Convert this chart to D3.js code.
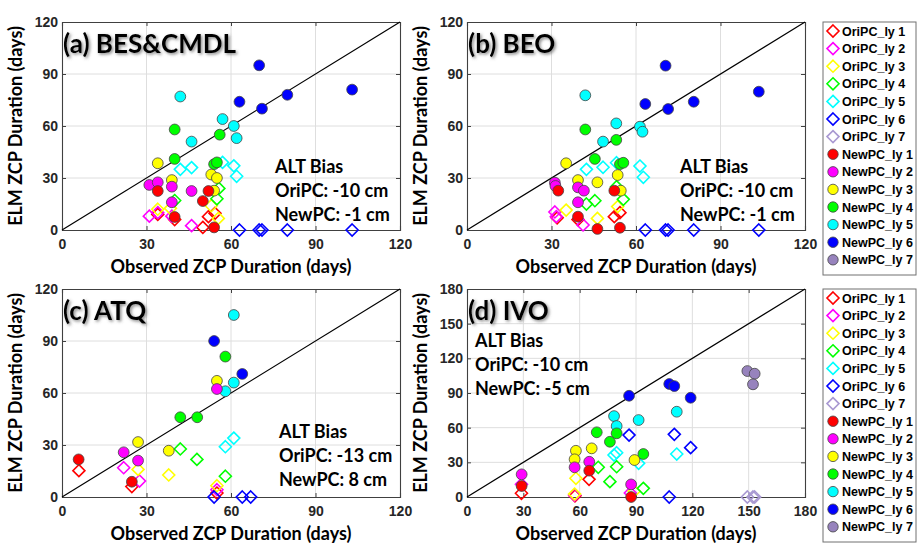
<!DOCTYPE html>
<html><head><meta charset="utf-8">
<script src="https://cdn.jsdelivr.net/npm/d3@7"></script>
<style>
html,body{margin:0;padding:0;background:#fff;}
svg{display:block;}
</style></head><body>
<svg id="chart" width="919" height="543"></svg>
<script>
// Layer styling (ly 1 .. ly 7)
const layerFill = ["#ff0000","#ff00ff","#ffff00","#00ff00","#00ffff","#0000ff","#9783bd"];
const layerEdge = ["#ff0000","#ff00ff","#ffff00","#00ff00","#00ffff","#0000ff","#a999d2"];
const oriLabels = ["OriPC_ly 1","OriPC_ly 2","OriPC_ly 3","OriPC_ly 4","OriPC_ly 5","OriPC_ly 6","OriPC_ly 7"];
const newLabels = ["NewPC_ly 1","NewPC_ly 2","NewPC_ly 3","NewPC_ly 4","NewPC_ly 5","NewPC_ly 6","NewPC_ly 7"];

const ticks120 = [0,30,60,90,120];
const ticks180 = [0,30,60,90,120,150,180];

// Each entry: [layer, observed ZCP days, ELM ZCP days]
const besOri = [
  [1,34,9],[1,40,6],[1,50,1.5],[1,52,7.7],[1,54.3,9.6],
  [2,31,8],[2,34,10],[2,39,8],[2,46,2.5],
  [3,34,12],[3,38.5,12.5],[3,53,14],[3,55.5,6.7],
  [4,40,17],[4,55,18],[4,55.7,24],
  [5,42,35],[5,46,36],[5,57,39],[5,61,37],[5,62,31],
  [6,63,0],[6,70,0],[6,71,0],[6,80,0],[6,103,0]
];
const besNew = [
  [1,34,22.5],[1,52,22.5],[1,50,16.7],[1,40,7.5],[1,54,1.5],
  [2,31,26],[2,34,27.5],[2,39,25],[2,46,22.5],[2,39,16],
  [3,34,38.5],[3,39,28.8],[3,53,32],[3,55,30],[3,54,22.7],
  [4,40,58],[4,56,55],[4,40,41],[4,54,38],[4,55,39],
  [5,42,77],[5,57,64],[5,61,60],[5,62,53],[5,46,51],
  [6,70,95],[6,63,74],[6,71,70],[6,80,78],[6,103,81]
];

const beoOri = [
  [1,32,7],[1,52.3,7.7],[1,54.3,10],[1,39.4,6],
  [2,31.2,10.4],[2,31.7,7.7],[2,41.2,2.9],
  [3,35.2,11.5],[3,46.3,6.7],[3,53.5,13.5],
  [4,42.4,15],[4,45.4,16.9],[4,53.1,25],[4,55.5,17.7],
  [5,42.4,35],[5,48.3,36.2],[5,53.1,38.8],[5,61.4,36.9],[5,62.6,30.4],
  [6,63.3,0],[6,70.5,0],[6,71.4,0],[6,80.5,0],[6,103.6,0]
];
const beoNew = [
  [1,32.4,22.7],[1,52.3,22.7],[1,39.4,7.7],[1,46.3,0.6],[1,54.3,1.3],
  [2,31.2,27.3],[2,31.4,25.4],[2,39.4,24.6],[2,41.5,22.7],[2,39.4,16],
  [3,35.2,38.5],[3,39.4,28.8],[3,46.3,27.5],[3,53.5,31.7],[3,54.6,22.7],
  [4,42,58],[4,53,52],[4,45.4,41],[4,54.3,38],[4,55.5,38.8],
  [5,42,77.7],[5,53,61.5],[5,61.4,59.6],[5,62.3,56.7],[5,48.3,51],
  [6,70.5,94.8],[6,63.3,72.7],[6,71.4,69.8],[6,80.5,74],[6,103.6,79.8]
];

const atqOri = [
  [1,6,15.2],[1,24.8,6],[1,55,2.3],
  [2,21.9,16.9],[2,27.5,9.2],[2,55,4.2],
  [3,27,15.9],[3,37.9,12.7],[3,55,6.5],
  [4,42,27.7],[4,47.9,21.7],[4,58,12],
  [5,58,29],[5,61,34],
  [6,54,0],[6,64,0],[6,67,0]
];
const atqNew = [
  [1,5.9,21.7],[1,24.8,8.8],
  [2,21.9,25.8],[2,27,21],[2,55,62.3],
  [3,27,31.7],[3,37.9,26.7],[3,55,67],
  [4,42,46],[4,48,46],[4,58,81],
  [5,61,105],[5,61,66],[5,58,61],
  [6,54,90],[6,64,71]
];

const ivoOri = [
  [1,29,3.2],[1,65,15.3],[1,57.5,1],
  [2,29,11],[2,57.3,1.7],[2,87,3.5],
  [3,58,16.2],[3,57.3,2.5],[3,89,5],
  [4,69.9,25.7],[4,76.1,13.3],[4,79.7,26.2],[4,93.9,7.5],
  [5,78.3,36.3],[5,79.7,38.3],[5,91.4,29.1],[5,111.7,37.2],
  [6,86.3,53.6],[6,110.4,54.2],[6,119.1,42.7],[6,107.7,0],
  [7,149.3,0],[7,152.3,0],[7,153.2,0]
];
const ivoNew = [
  [1,29.1,9.5],[1,65.1,22.8],[1,87.4,0],
  [2,29.1,19.6],[2,57.3,25.7],[2,65.1,30.5],[2,87.4,10.9],
  [3,58,40],[3,57.3,32.6],[3,66.4,42.1],[3,89.2,32],
  [4,69.1,56],[4,76.1,47.8],[4,79.7,55.1],[4,93.9,37.2],
  [5,78.3,70],[5,79.7,61.4],[5,91.4,66.6],[5,111.7,73.8],
  [6,86.3,87.6],[6,107.7,97.8],[6,110.4,96],[6,119.1,85.9],
  [7,149.3,109],[7,153.2,106.7],[7,152.3,97.5]
];

const panelTitles = ["(a) BES&CMDL","(b) BEO","(c) ATQ","(d) IVO"];
const oriBias = ["-10 cm","-10 cm","-13 cm","-10 cm"];
const newBias = ["-1 cm","-1 cm","8 cm","-5 cm"];

const svg = d3.select("#chart");
const defs = svg.append("defs");
const shadow = defs.append("filter").attr("id","soft").attr("x","-10%").attr("y","-30%").attr("width","130%").attr("height","180%");
shadow.append("feDropShadow").attr("dx",1.5).attr("dy",1.5).attr("stdDeviation",1.6)
  .attr("flood-color","#555").attr("flood-opacity",0.7);

const tickFont = "'Liberation Sans', Arial, sans-serif";
const textFont = "Lato, 'Open Sans', sans-serif";

function diamond(s){ return `M0,${-s}L${s},0L0,${s}L${-s},0Z`; }

const panels = [
  {ori:besOri, neu:besNew, x0:62,  y0:22,  max:120, ticks:ticks120, bias:[213,151]},
  {ori:beoOri, neu:beoNew, x0:467, y0:22,  max:120, ticks:ticks120, bias:[213,151]},
  {ori:atqOri, neu:atqNew, x0:62,  y0:289, max:120, ticks:ticks120, bias:[217,149]},
  {ori:ivoOri, neu:ivoNew, x0:467, y0:289, max:180, ticks:ticks180, bias:[8,58]}
];
const W = 338, H = 208;

panels.forEach((p,i)=>{
  const x = d3.scaleLinear().domain([0,p.max]).range([p.x0, p.x0+W]);
  const y = d3.scaleLinear().domain([0,p.max]).range([p.y0+H, p.y0]);
  const g = svg.append("g");

  // grid
  g.append("g").selectAll("line.gx").data(p.ticks.slice(1,-1)).join("line")
    .attr("x1",d=>x(d)).attr("x2",d=>x(d)).attr("y1",p.y0).attr("y2",p.y0+H)
    .attr("stroke","#dedede").attr("stroke-width",1);
  g.append("g").selectAll("line.gy").data(p.ticks.slice(1,-1)).join("line")
    .attr("y1",d=>y(d)).attr("y2",d=>y(d)).attr("x1",p.x0).attr("x2",p.x0+W)
    .attr("stroke","#dedede").attr("stroke-width",1);

  // axes (ticks pointing inward on all four sides)
  const ax = [
    d3.axisBottom(x).tickValues(p.ticks).tickSize(-4).tickPadding(9),
    d3.axisLeft(y).tickValues(p.ticks).tickSize(-4).tickPadding(4),
    d3.axisTop(x).tickValues(p.ticks).tickSize(-4).tickFormat(""),
    d3.axisRight(y).tickValues(p.ticks).tickSize(-4).tickFormat("")
  ];
  const pos = [`translate(0,${p.y0+H})`,`translate(${p.x0},0)`,`translate(0,${p.y0})`,`translate(${p.x0+W},0)`];
  ax.forEach((a,k)=>{
    const ag = g.append("g").attr("transform",pos[k]).call(a);
    ag.select(".domain").attr("stroke","#404040").attr("stroke-width",1.1);
    ag.selectAll(".tick line").attr("stroke","#404040");
    ag.selectAll("text").attr("font-family",tickFont).attr("font-weight","bold")
      .attr("font-size",14).attr("fill","#262626");
  });

  // 1:1 line
  g.append("line").attr("x1",x(0)).attr("y1",y(0)).attr("x2",x(p.max)).attr("y2",y(p.max))
    .attr("stroke","#000").attr("stroke-width",1.2);

  // OriPC diamonds
  g.append("g").selectAll("path").data(p.ori).join("path")
    .attr("d",diamond(6))
    .attr("transform",d=>`translate(${x(d[1])},${y(d[2])})`)
    .attr("fill","none").attr("stroke",d=>layerEdge[d[0]-1]).attr("stroke-width",1.6);

  // NewPC circles (deeper layers drawn first)
  const neu = p.neu.slice().sort((a,b)=>b[0]-a[0]);
  g.append("g").selectAll("circle").data(neu).join("circle")
    .attr("cx",d=>x(d[1])).attr("cy",d=>y(d[2])).attr("r",5.4)
    .attr("fill",d=>layerFill[d[0]-1]).attr("stroke","#444").attr("stroke-width",0.8);

  // panel title
  g.append("text").attr("x",p.x0+1).attr("y",p.y0+31)
    .attr("font-family",textFont).attr("font-weight","bold").attr("font-size",26)
    .attr("fill","#000").attr("filter","url(#soft)").text(panelTitles[i]);

  // ALT bias note
  const bx = p.x0 + p.bias[0], by = p.y0 + p.bias[1];
  ["ALT Bias","OriPC: "+oriBias[i],"NewPC: "+newBias[i]].forEach((t,k)=>{
    g.append("text").attr("x",bx).attr("y",by+k*24)
      .attr("font-family",textFont).attr("font-weight","bold").attr("font-size",18)
      .attr("fill","#000").text(t);
  });

  // axis titles
  g.append("text").attr("x",p.x0+W/2).attr("y",p.y0+H+43).attr("text-anchor","middle")
    .attr("font-family",textFont).attr("font-weight","bold").attr("font-size",18)
    .attr("fill","#000").text("Observed ZCP Duration (days)");
  g.append("text").attr("transform",`translate(${p.x0-40},${p.y0+H/2}) rotate(-90)`)
    .attr("text-anchor","middle")
    .attr("font-family",textFont).attr("font-weight","bold").attr("font-size",18)
    .attr("fill","#000").text("ELM ZCP Duration (days)");
});

// legends
[22, 289].forEach(top=>{
  const lg = svg.append("g");
  lg.append("rect").attr("x",823).attr("y",top).attr("width",93).attr("height",253)
    .attr("fill","#fff").attr("stroke","#707070").attr("stroke-width",1);
  const rows = oriLabels.map((t,k)=>({t, k, type:"ori"}))
    .concat(newLabels.map((t,k)=>({t, k, type:"new"})));
  rows.forEach((r,j)=>{
    const cy = top + 9 + j*17.6;
    if(r.type==="ori"){
      lg.append("path").attr("d",diamond(6)).attr("transform",`translate(833,${cy})`)
        .attr("fill","none").attr("stroke",layerEdge[r.k]).attr("stroke-width",1.6);
    } else {
      lg.append("circle").attr("cx",833).attr("cy",cy).attr("r",5.2)
        .attr("fill",layerFill[r.k]).attr("stroke","#444").attr("stroke-width",0.8);
    }
    lg.append("text").attr("x",842).attr("y",cy+4.5)
      .attr("font-family",tickFont).attr("font-weight","bold").attr("font-size",12.5)
      .attr("fill","#000").text(r.t);
  });
});
</script>
</body></html>
